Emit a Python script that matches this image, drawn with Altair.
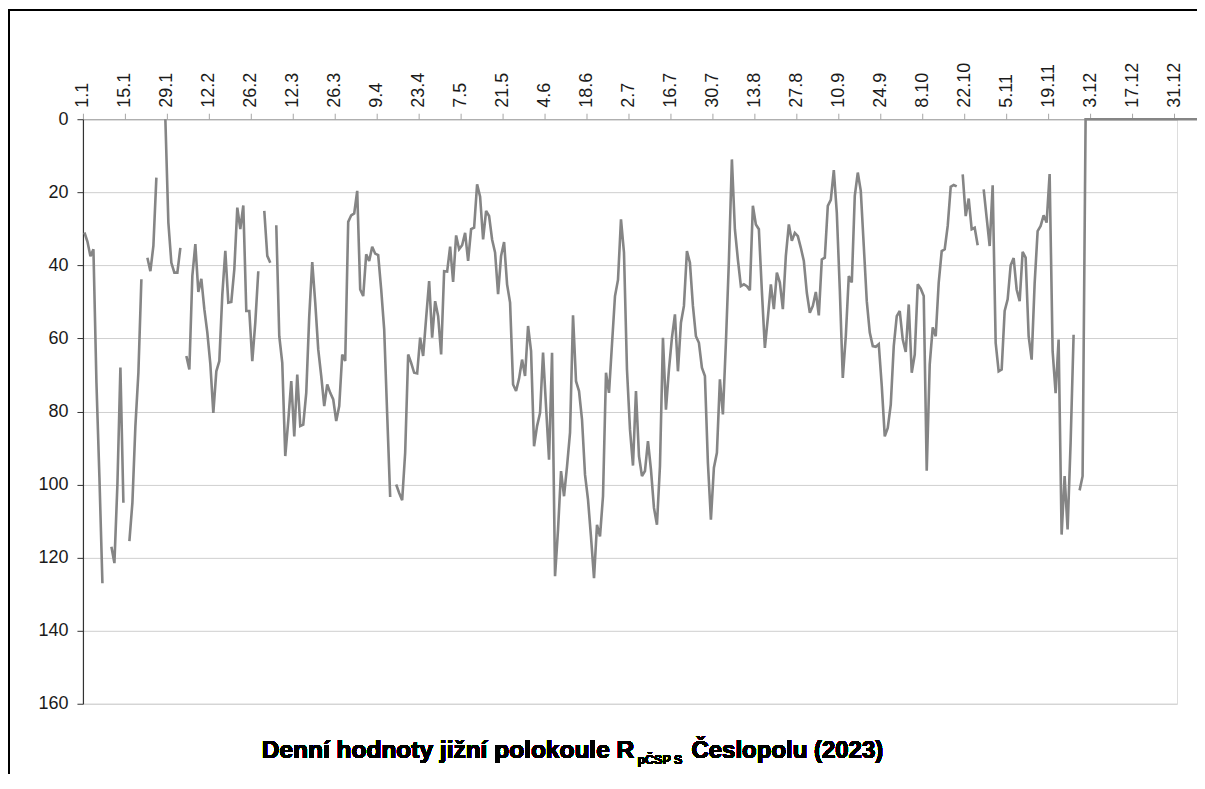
import altair as alt
import pandas as pd

# ---------------- data -----------------
R_S = [
    31, 33.5, 37.5, 35.6, 72, 98, 127, None, None, 117,
    121.5, 100, 68, 105, None, 115.5, 105, 84, 69.4, 43.8,
    None, 37.9, 41.6, 34.7, 16, None, None, 0, 28.3, 39.3,
    42, 42, 35.2, None, 64.8, 68.5, 42.9, 34.2, 47.3, 43.7,
    52, 58.4, 67, 80.4, 69, 66.2, 48, 36, 50.2, 50,
    41.1, 24.2, 30.1, 23.6, 52.5, 52.5, 66.2, 55.7, 41.6, None,
    25.1, 37.4, 39.3, None, 29.0, 59.4, 66.7, 92.2, 82.6, 71.7,
    86.8, 69.9, 84, 83.6, 74.9, 53.9, 39.1, 50.2, 63, 70.3,
    78.5, 72.6, 74.9, 76.7, 82.6, 78.5, 64.4, 66.2, 28.1, 26.3,
    25.8, 19.6, 46.6, 48.4, 37, 38.8, 34.9, 36.8, 37.2, 46.6,
    57.5, 80.8, 103.4, None, 100, 102.3, 104.3, 91.3, 64.4, 66.7,
    69.4, 69.6, 59.8, 64.8, 54.4, 44.3, 59.8, 49.8, 53.9, 64.4,
    41.6, 41.7, 34.9, 44.5, 31.8, 35.6, 34.5, 31.1, 38.8, 30.1,
    29.7, 17.8, 21.2, 32.9, 25.1, 26.5, 32.9, 36.5, 47.9, 37.4,
    33.6, 45.2, 50.2, 72.6, 74.4, 71, 65.8, 70.3, 56.6, 63.5,
    89.5, 84, 80.4, 63.9, 78.7, 93.2, 63.9, 125.1, 112.3, 96.3,
    103.2, 95, 85.8, 53.7, 71.7, 74.4, 82.2, 97.3, 104.1, 114.4,
    125.6, 111, 114.2, 103.2, 69.4, 74.9, 61.6, 48.4, 44, 27.4,
    36.5, 68.5, 84.9, 94.8, 74.4, 92.2, 97.7, 96.3, 88.1, 95.9,
    106.4, 111, 95, 59.8, 79.5, 68.5, 59.8, 53.4, 69, 55.7,
    51.1, 36.1, 39.3, 51.1, 59.4, 61.2, 68, 70.3, 94.1, 109.6,
    95.4, 91.3, 71.2, 80.8, 61.2, 38.8, 11, 30.1, 38.4, 45.7,
    45.2, 45.7, 46.8, 23.7, 28.8, 30.1, 47, 62.6, 54.3, 45.2,
    52, 42, 44.7, 52, 37.4, 28.8, 33.3, 31.1, 32, 35.2,
    38.8, 47.5, 53, 51.1, 47.3, 53.7, 38.4, 37.9, 23.7, 22.1,
    13.9, 25.6, 46.6, 70.8, 59.4, 42.9, 44.7, 21, 14.6, 19.6,
    34.7, 49.8, 58.4, 62.1, 62.3, 61.6, 73, 86.8, 84.5, 78.1,
    62.1, 53.9, 52.5, 60.3, 63.7, 50.7, 69.4, 64.4, 45.2, 46.4,
    48.4, 96.2, 67.1, 57, 59.4, 44.7, 36.1, 35.6, 29.2, 18.5,
    18, 18.4, None, 15.1, 26.5, 21.7, 30.1, 29.7, 34.5, None,
    19.2, 27, 34.7, 18.1, 61.2, 69, 68.5, 52.5, 49.3, 40,
    38, 46.6, 49.8, 36.3, 37.9, 59.4, 65.8, 45, 30.6, 29.2,
    26.3, 28.3, 15, 63.5, 75, 60.3, 113.7, 97.7, 112.3, 88.6,
    59, None, 101.6, 97.7, 0, 0, 0, 0, 0, 0,
    0, 0, 0, 0, 0, 0, 0, 0, 0, 0,
    0, 0, 0, 0, 0, 0, 0, 0, 0, 0,
    0, 0, 0, 0, 0, 0, 0, 0, 0, 0,
    0, 0, 0, 0, 0,
]
DAYS = list(range(1, len(R_S) + 1))

TICK_LABELS = ["1.1", "15.1", "29.1", "12.2", "26.2", "12.3", "26.3", "9.4",
               "23.4", "7.5", "21.5", "4.6", "18.6", "2.7", "16.7", "30.7",
               "13.8", "27.8", "10.9", "24.9", "8.10", "22.10", "5.11",
               "19.11", "3.12", "17.12", "31.12"]
TICK_VALUES = [0.5 + 14 * k for k in range(len(TICK_LABELS))]
Y_TICKS = [0, 20, 40, 60, 80, 100, 120, 140, 160]

TITLE_MAIN = "Denní hodnoty jižní polokoule R"
TITLE_SUB = "pČSP S"
TITLE_END = "Česlopolu (2023)"

df = pd.DataFrame({"day": DAYS, "value": R_S})

W, H = 1095, 585
FONT = "Liberation Sans"
label_arr = "[" + ",".join("'%s'" % s for s in TICK_LABELS) + "]"

x_enc = alt.X("day:Q",
              scale=alt.Scale(domain=[0.5, 365.5], nice=False, zero=False),
              axis=alt.Axis(orient="top", values=TICK_VALUES,
                            labelExpr=label_arr + "[round((datum.value - 0.5) / 14)]",
                            labelAngle=-90, labelFont=FONT, labelFontSize=18,
                            labelColor="#1a1a1a", labelPadding=6,
                            tickSize=6, tickColor="#a6a6a6", domainColor="#a6a6a6",
                            grid=False, title=None, labelOverlap=False))
y_enc = alt.Y("value:Q",
              scale=alt.Scale(domain=[0, 160], reverse=True, nice=False, zero=True),
              axis=alt.Axis(values=Y_TICKS, labelFont=FONT, labelFontSize=18,
                            labelColor="#1a1a1a", labelPadding=9,
                            tickSize=6, tickColor="#333333", domainColor="#333333",
                            domainWidth=1.2, gridColor="#cfcfcf", gridWidth=1,
                            title=None))

line = alt.Chart(df).mark_line(
    color="#858585", strokeWidth=2.6, invalid="break-paths-show-domains",
    strokeJoin="miter", strokeMiterLimit=3
).encode(x=x_enc, y=y_enc)

# chart-area frame (decoration)
frame_left = alt.Chart(df).mark_rule(color="#000000", strokeWidth=1.2, clip=False).encode(
    x=alt.value(-74.5), y=alt.value(-109), y2=alt.value(H + 80))
frame_top = alt.Chart(df).mark_rule(color="#000000", strokeWidth=1.2, clip=False).encode(
    x=alt.value(-75), x2=alt.value(W + 25), y=alt.value(-109))

t_main = alt.Chart(df).mark_text(
    text=TITLE_MAIN, font=FONT, fontSize=24.5, fontWeight="bold", align="left",
    baseline="alphabetic", color="#000000", clip=False
).encode(x=alt.value(179), y=alt.value(639))
t_sub = alt.Chart(df).mark_text(
    text=TITLE_SUB, font=FONT, fontSize=12.5, fontWeight="bold", align="left",
    baseline="alphabetic", color="#000000", clip=False
).encode(x=alt.value(555), y=alt.value(645))
t_end = alt.Chart(df).mark_text(
    text=TITLE_END, font=FONT, fontSize=24, fontWeight="bold", align="right",
    baseline="alphabetic", color="#000000", clip=False
).encode(x=alt.value(801), y=alt.value(639))

chart = alt.layer(line, frame_left, frame_top, t_main, t_sub, t_end).properties(
    width=W, height=H,
    autosize=alt.AutoSizeParams(type="none"),
    padding={"left": 75, "top": 111, "right": 20, "bottom": 70},
).configure_view(stroke="#a6a6a6", strokeWidth=1).configure(background="white")

chart.save("out.html", embed_options={"renderer": "svg", "actions": False})
